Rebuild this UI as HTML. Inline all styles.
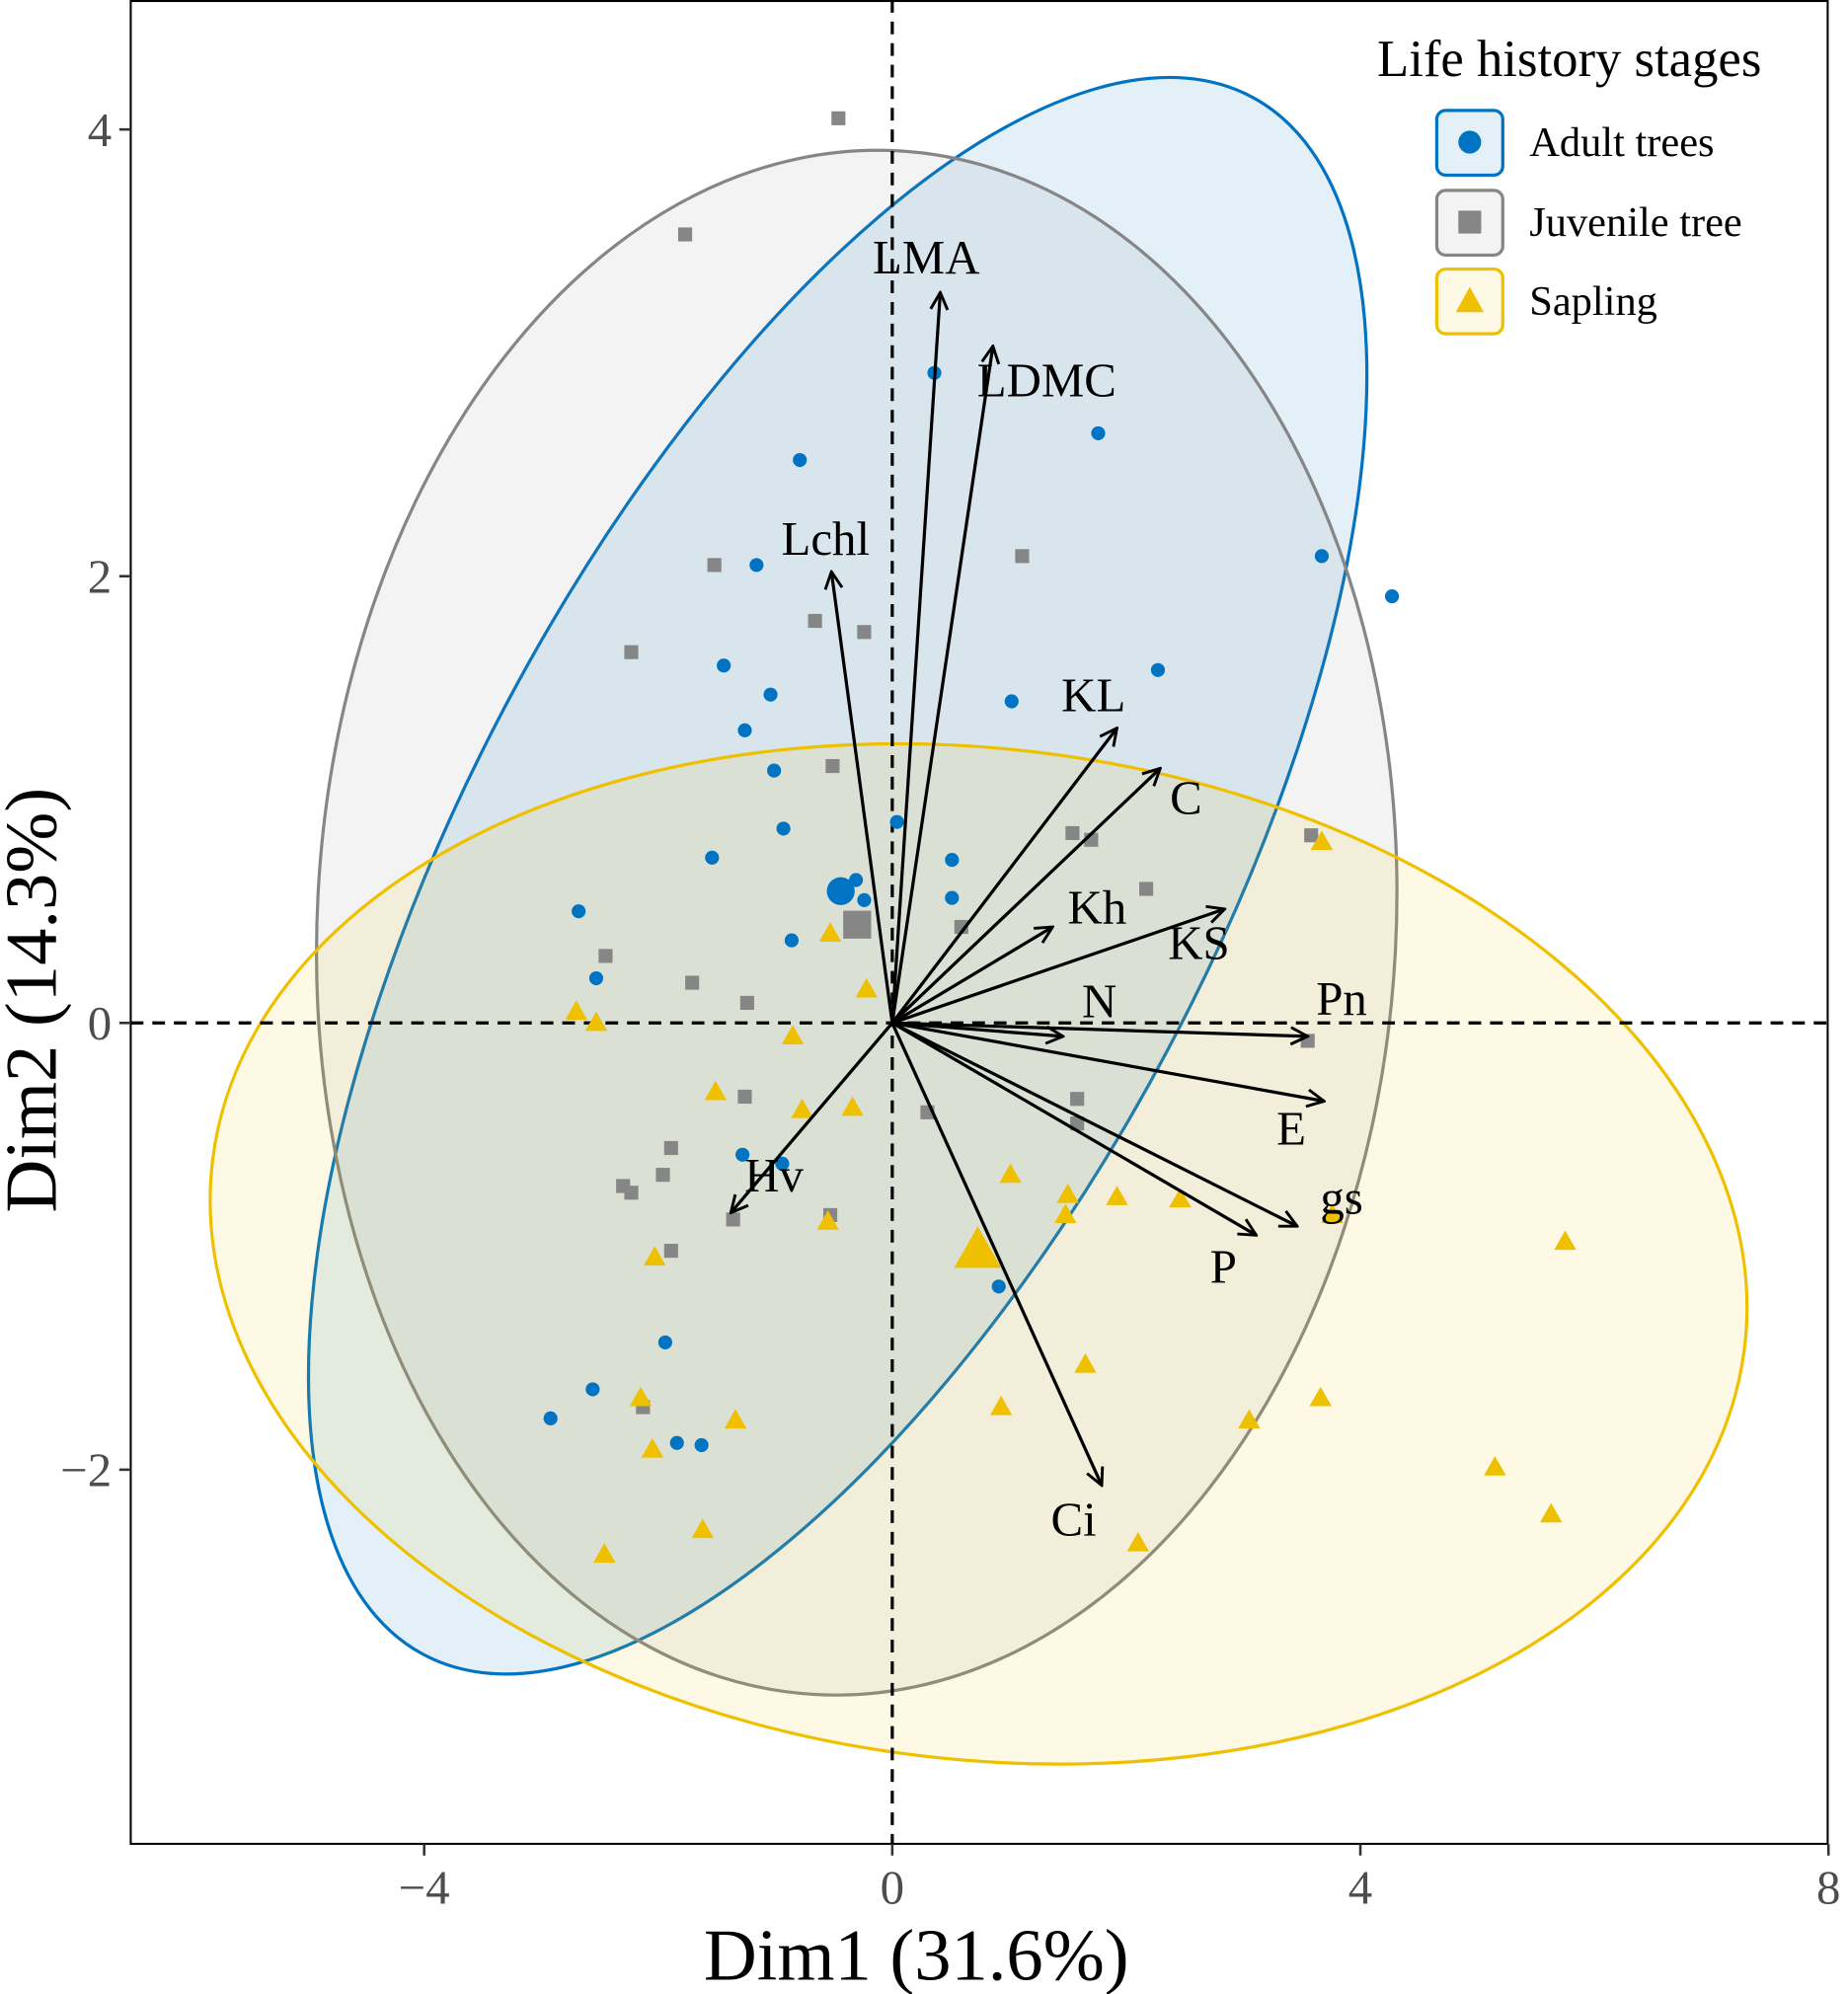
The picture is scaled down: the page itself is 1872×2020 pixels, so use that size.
<!DOCTYPE html>
<html><head><meta charset="utf-8"><style>
html,body{margin:0;padding:0;background:#fff;}
svg{display:block;font-family:"Liberation Serif",serif;}
</style></head><body>
<svg id="chart" width="1872" height="2020" viewBox="0 0 1456 1571.1" preserveAspectRatio="none" xmlns="http://www.w3.org/2000/svg">
<defs>
<marker id="ah" viewBox="0 0 12 12" refX="11" refY="6" markerWidth="16" markerHeight="16" markerUnits="userSpaceOnUse" orient="auto">
<path d="M1,1 L11,6 L1,11" fill="none" stroke="#000" stroke-width="1.7"/>
</marker>
<clipPath id="pc"><rect x="103" y="0" width="1337" height="1453"/></clipPath>
</defs>
<rect x="0" y="0" width="1456" height="1571.1" fill="#fff"/>
<g clip-path="url(#pc)">
<ellipse cx="660" cy="690" rx="695" ry="294" transform="rotate(-62 660 690)" fill="#0073C2" fill-opacity="0.11" stroke="#0073C2" stroke-width="2.5"/>
<ellipse cx="675" cy="727" rx="425" ry="609" transform="rotate(3 675 727)" fill="#868686" fill-opacity="0.1" stroke="#868686" stroke-width="2.5"/>
<ellipse cx="771" cy="988" rx="608" ry="398" transform="rotate(7 771 988)" fill="#EFC000" fill-opacity="0.1" stroke="#EFC000" stroke-width="2.5"/>
<line x1="103" y1="806" x2="1440" y2="806" stroke="#000" stroke-width="2.5" stroke-dasharray="10,7"/>
<line x1="703" y1="0" x2="703" y2="1453" stroke="#000" stroke-width="2.5" stroke-dasharray="10,7"/>
<g id="pts"></g>
<g id="arrows"></g>
</g>
<rect x="103" y="0.8" width="1337" height="1452" fill="none" stroke="#000" stroke-width="1.6"/>
<g id="axes"></g>
<text x="722" y="1560" font-size="58" text-anchor="middle">Dim1 (31.6%)</text>
<text transform="translate(44,788) rotate(-90)" font-size="58" text-anchor="middle">Dim2 (14.3%)</text>
<g>
<text x="1085" y="60" font-size="41">Life history stages</text>
<g>
<rect x="1132" y="87" width="52" height="51" rx="7" fill="#0073C2" fill-opacity="0.11" stroke="#0073C2" stroke-width="2.5"/>
<circle cx="1158" cy="112" r="9" fill="#0073C2"/>
<text x="1205" y="123" font-size="33">Adult trees</text></g>
<g>
<rect x="1132" y="150" width="52" height="51" rx="7" fill="#868686" fill-opacity="0.1" stroke="#868686" stroke-width="2.5"/>
<rect x="1149" y="166" width="18" height="18" fill="#868686"/>
<text x="1205" y="186" font-size="33">Juvenile tree</text></g>
<g>
<rect x="1132" y="212" width="52" height="51" rx="7" fill="#EFC000" fill-opacity="0.1" stroke="#EFC000" stroke-width="2.5"/>
<polygon points="1158,226 1169,246 1147,246" fill="#EFC000"/>
<text x="1205" y="248" font-size="33">Sapling</text></g>
</g>
</svg>
<script>
const adultX=[0.36,1.76,-0.79,3.67,4.27,-1.16,2.27,-1.44,-1.04,1.02,-1.26,-1.01,-0.93,0.04,-1.54,0.51,-0.31,-0.24,0.51,-2.68,-0.86,-2.53,-1.28,-0.94,0.91,-1.94,-2.56,-2.92,-1.84,-1.63];
const adultY=[2.91,2.64,2.52,2.09,1.91,2.05,1.58,1.60,1.47,1.44,1.31,1.13,0.87,0.90,0.74,0.73,0.64,0.55,0.56,0.50,0.37,0.20,-0.59,-0.63,-1.18,-1.43,-1.64,-1.77,-1.88,-1.89];
const juvX=[-0.46,-1.77,-1.52,1.11,-0.66,-0.24,-2.23,-0.51,1.54,1.70,3.58,2.17,0.59,-2.45,-1.71,-1.24,3.55,1.58,1.58,-1.26,0.30,-1.89,-1.96,-2.30,-2.23,-1.36,-0.53,-1.89,-2.13];
const juvY=[4.05,3.53,2.05,2.09,1.80,1.75,1.66,1.15,0.85,0.82,0.84,0.60,0.43,0.30,0.18,0.09,-0.08,-0.34,-0.45,-0.33,-0.40,-0.56,-0.68,-0.73,-0.76,-0.88,-0.86,-1.02,-1.72];
const sapX=[3.67,-0.53,-0.22,-2.70,-2.53,-0.85,-1.51,-0.77,-0.34,1.01,1.50,1.92,2.46,1.48,3.76,-0.55,-2.03,5.75,1.65,3.66,0.93,3.05,-2.15,-1.34,-2.05,-1.62,-2.46,5.15,5.63,2.10];
const sapY=[0.81,0.40,0.15,0.05,0.00,-0.06,-0.31,-0.39,-0.38,-0.68,-0.77,-0.78,-0.79,-0.86,-0.86,-0.89,-1.05,-0.98,-1.53,-1.68,-1.72,-1.78,-1.68,-1.78,-1.91,-2.27,-2.38,-1.99,-2.20,-2.33];
const groupMeanX=[-0.44,-0.30,0.73];
const groupMeanY=[0.59,0.44,-1.02];
const varNames=["LMA","LDMC","Lchl","KL","C","Kh","KS","N","Pn","E","gs","P","Ci","Hv"];
const varX=[0.41,0.86,-0.52,1.92,2.29,1.37,2.84,1.46,3.55,3.69,3.46,3.11,1.79,-1.38];
const varY=[3.27,3.03,2.02,1.32,1.14,0.43,0.51,-0.06,-0.06,-0.35,-0.91,-0.95,-2.07,-0.85];
const labelX=[0.29,1.32,-0.57,1.72,2.51,1.75,2.62,1.77,3.84,3.41,3.84,2.83,1.55,-1.01];
const labelY=[3.43,2.88,2.17,1.47,1.01,0.52,0.36,0.10,0.11,-0.47,-0.78,-1.09,-2.22,-0.68];
const xTicks=[-4,0,4,8];
const yTicks=[-2,0,2,4];

const NS="http://www.w3.org/2000/svg";
const sx=v=>703+92.2*v;
const sy=v=>806-176*v;
function mk(tag,attrs,parent){const e=document.createElementNS(NS,tag);for(const k in attrs)e.setAttribute(k,attrs[k]);parent.appendChild(e);return e;}
const pts=document.getElementById('pts');
function circ(x,y,r,name){const e=mk('circle',{cx:sx(x),cy:sy(y),r:r,fill:'#0073C2'},pts);

}
function sq(x,y,s,name){const e=mk('rect',{x:sx(x)-s/2,y:sy(y)-s/2,width:s,height:s,fill:'#868686'},pts);

}
function tri(x,y,s,name){const cx=sx(x),cy=sy(y);const e=mk('polygon',{points:`${cx},${cy-s*0.6} ${cx+s*0.58},${cy+s*0.42} ${cx-s*0.58},${cy+s*0.42}`,fill:'#EFC000'},pts);

}
juvX.forEach((v,i)=>sq(v,juvY[i],11,'juvenile-point'));
sapX.forEach((v,i)=>tri(v,sapY[i],15,'sapling-point'));
adultX.forEach((v,i)=>circ(v,adultY[i],5.5,'adult-point'));
sq(groupMeanX[1],groupMeanY[1],22,'juvenile-mean');
tri(groupMeanX[2],groupMeanY[2],32,'sapling-mean');
circ(groupMeanX[0],groupMeanY[0],11,'adult-mean');
const ar=document.getElementById('arrows');
varNames.forEach((n,i)=>{
const l=mk('line',{x1:sx(0),y1:sy(0),x2:sx(varX[i]),y2:sy(varY[i]),stroke:'#000','stroke-width':2.5,'marker-end':'url(#ah)'},ar);


const t=mk('text',{x:sx(labelX[i]),y:sy(labelY[i])+13,'font-size':38,'text-anchor':'middle'},ar);
t.textContent=n;


});
const ax=document.getElementById('axes');
xTicks.forEach(v=>{
const l=mk('line',{x1:sx(v),y1:1453,x2:sx(v),y2:1462,stroke:'#333','stroke-width':2},ax);


const t=mk('text',{x:sx(v),y:1500,'font-size':38,'text-anchor':'middle',fill:'#4d4d4d'},ax);
t.textContent=v<0?'\u2212'+Math.abs(v):String(v);


});
yTicks.forEach(v=>{
const l=mk('line',{x1:94,y1:sy(v),x2:103,y2:sy(v),stroke:'#333','stroke-width':2},ax);


const t=mk('text',{x:88,y:sy(v)+13,'font-size':38,'text-anchor':'end',fill:'#4d4d4d'},ax);
t.textContent=v<0?'\u2212'+Math.abs(v):String(v);


});
</script>
</body></html>
